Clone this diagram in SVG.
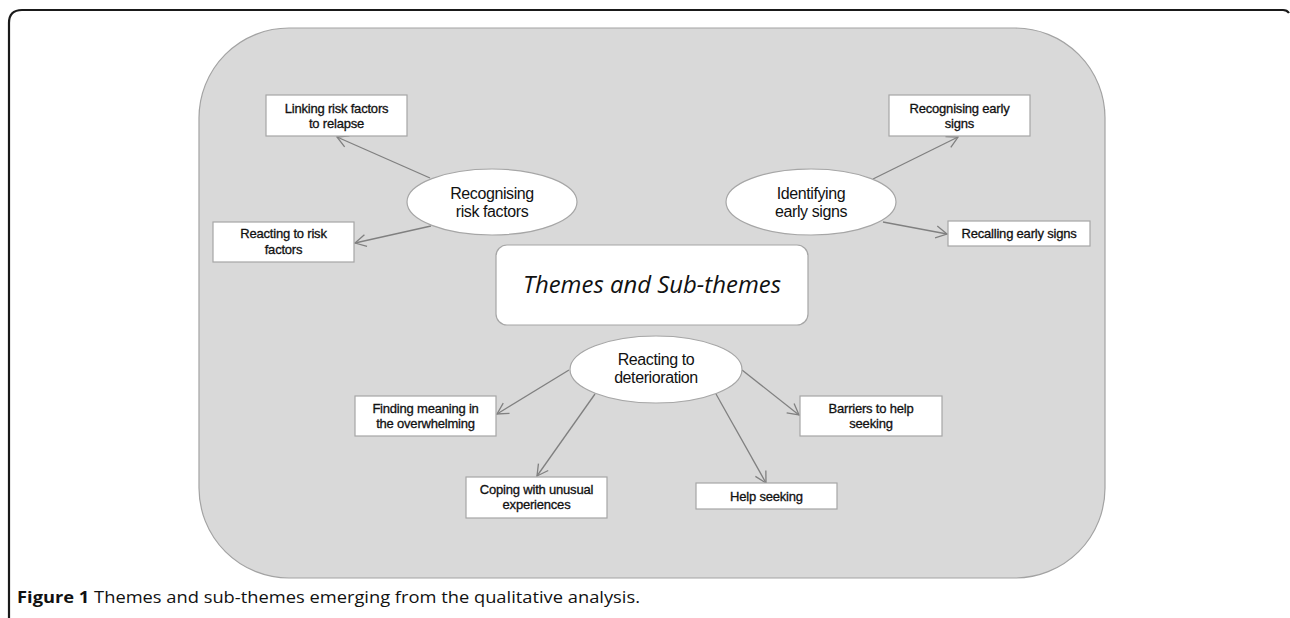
<svg xmlns="http://www.w3.org/2000/svg" width="1290" height="618" viewBox="0 0 1290 618">
<defs>
<style>
.bg{fill:#d9d9d9;stroke:#a3a3a3;stroke-width:1.2}
.box{fill:#fff;stroke:#a6a6a6;stroke-width:1.2}
.ell{fill:#fff;stroke:#a6a6a6;stroke-width:1.2}
.bt{font-family:"Liberation Sans",Arial,sans-serif;font-size:13px;fill:#111;stroke:#111;stroke-width:0.3;text-anchor:middle;letter-spacing:-0.2px}
.et{font-family:"Liberation Sans",Arial,sans-serif;font-size:16px;fill:#111;text-anchor:middle;letter-spacing:-0.4px}
.conn{stroke:#808080;stroke-width:1.3;fill:none;marker-end:url(#arr)}
</style>
<marker id="arr" markerUnits="userSpaceOnUse" markerWidth="14" markerHeight="14" viewBox="0 0 14 14" refX="12" refY="7" orient="auto">
<path d="M1,1 L12,7 L1,13" fill="none" stroke="#808080" stroke-width="1.3"/>
</marker>
</defs>
<rect width="1290" height="618" fill="#fff"/>
<path d="M9,618 L9,23 Q9,10 22,10 L1283,10 Q1287,10 1289,13" fill="none" stroke="#1a1a1a" stroke-width="2.2"/>
<rect class="bg" x="199" y="28" width="906" height="550" rx="90" ry="90"/>

<g id="connectors">
<line class="conn" x1="430" y1="178" x2="337" y2="137"/>
<line class="conn" x1="431" y1="226" x2="355" y2="243"/>
<line class="conn" x1="873" y1="179" x2="958" y2="137"/>
<line class="conn" x1="883" y1="222" x2="947" y2="234"/>
<line class="conn" x1="569" y1="370" x2="497" y2="414"/>
<line class="conn" x1="595" y1="394" x2="537" y2="476"/>
<line class="conn" x1="716" y1="394" x2="766" y2="483"/>
<line class="conn" x1="742" y1="370" x2="799" y2="415"/>
</g>

<g id="center">
<rect class="box" x="496" y="245" width="312" height="80" rx="11" ry="11"/>
<text x="652" y="293" font-family="'Open Sans','Noto Sans',sans-serif" font-style="italic" font-size="23" fill="#111" text-anchor="middle" textLength="258" lengthAdjust="spacingAndGlyphs">Themes and Sub-themes</text>
</g>

<g id="recognising-risk">
<ellipse class="ell" cx="492" cy="202" rx="85" ry="33"/>
<text class="et" x="492" y="199">Recognising</text>
<text class="et" x="492" y="217">risk factors</text>
</g>
<g id="linking">
<rect class="box" x="266" y="95" width="141" height="41"/>
<text class="bt" x="336.5" y="113">Linking risk factors</text>
<text class="bt" x="336.5" y="128">to relapse</text>
</g>
<g id="reacting-risk">
<rect class="box" x="213" y="222" width="141" height="40"/>
<text class="bt" x="283.5" y="238">Reacting to risk</text>
<text class="bt" x="283.5" y="254">factors</text>
</g>

<g id="identifying">
<ellipse class="ell" cx="811" cy="202" rx="85" ry="33"/>
<text class="et" x="811" y="199">Identifying</text>
<text class="et" x="811" y="217">early signs</text>
</g>
<g id="recognising-early">
<rect class="box" x="889" y="95" width="141" height="41"/>
<text class="bt" x="959.5" y="113">Recognising early</text>
<text class="bt" x="959.5" y="128">signs</text>
</g>
<g id="recalling">
<rect class="box" x="948" y="221" width="142" height="25"/>
<text class="bt" x="1019" y="238">Recalling early signs</text>
</g>

<g id="reacting-det">
<ellipse class="ell" cx="656" cy="369.5" rx="86" ry="33.5"/>
<text class="et" x="656" y="365">Reacting to</text>
<text class="et" x="656" y="383">deterioration</text>
</g>
<g id="finding">
<rect class="box" x="355" y="396" width="141" height="40"/>
<text class="bt" x="425.5" y="413">Finding meaning in</text>
<text class="bt" x="425.5" y="428">the overwhelming</text>
</g>
<g id="coping">
<rect class="box" x="466" y="477" width="141" height="41"/>
<text class="bt" x="536.5" y="494">Coping with unusual</text>
<text class="bt" x="536.5" y="509">experiences</text>
</g>
<g id="help">
<rect class="box" x="696" y="483" width="141" height="26"/>
<text class="bt" x="766.5" y="501">Help seeking</text>
</g>
<g id="barriers">
<rect class="box" x="800" y="396" width="142" height="40"/>
<text class="bt" x="871" y="413">Barriers to help</text>
<text class="bt" x="871" y="428">seeking</text>
</g>

<text x="17" y="603" font-family="'Open Sans','Noto Sans',sans-serif" font-size="15.5" fill="#111" textLength="623" lengthAdjust="spacingAndGlyphs"><tspan font-weight="bold">Figure 1</tspan> Themes and sub-themes emerging from the qualitative analysis.</text>
</svg>
